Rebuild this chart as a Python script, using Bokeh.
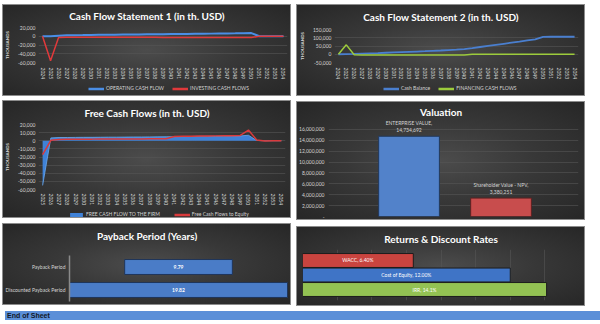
from bokeh.plotting import figure
from bokeh.models import (Range1d, FactorRange, Legend, LegendItem, NumeralTickFormatter,
                          FixedTicker, Spacer, Grid, Div)
from bokeh.layouts import column, row
from bokeh.embed import file_html
from bokeh.resources import INLINE
from bokeh.core.properties import value

# ---------------- data ----------------
years_cf = ["2024", "2025", "2026", "2027", "2028", "2029", "2030", "2031", "2032", "2033",
            "2034", "2035", "2036", "2037", "2038", "2039", "2040", "2041", "2042", "2043",
            "2044", "2045", "2046", "2047", "2048", "2049", "2050", "2051", "2052", "2053", "2054"]
operating_cf = [0, 0, 1400, 2100, 2500, 2700, 3000, 3300, 3500, 3600, 3900, 4100, 4200, 4500,
                4700, 4800, 5100, 5300, 5400, 5700, 5900, 6000, 6300, 6500, 6600, 6900, 7200,
                0, 0, 0, 0]
investing_cf = [0, -56000, -2600, -2100, -2100, -2200, -2200, -2300, -2200, -2300, -2400, -2400,
                -2500, -2500, -2400, -2600, -2600, -2700, -2600, -2800, -2800, -2900, -2800,
                -3000, -3000, -3100, -3100, 0, 0, 0, 0]
cash_balance = [0, 300, 2000, 3800, 5500, 7200, 9000, 10800, 12700, 14600, 16500, 18500, 20600,
                22800, 25100, 27500, 31500, 37500, 44000, 50500, 57000, 63500, 70000, 76500,
                83500, 90500, 105500, 106000, 106000, 106000, 106000]
financing_cf = [0, 57000, -3500, -3800, -3800, -3900, -3900, -4000, -4000, -4000, -4100, -4100,
                -4100, -4200, -4200, -4200, -4300, -600, -600, -600, -600, -600, -600, -600,
                -600, -600, -600, 0, 0, 0, 0]

years_fcf = ["2025", "2026", "2027", "2028", "2029", "2030", "2031", "2032", "2033", "2034",
             "2035", "2036", "2037", "2038", "2039", "2040", "2041", "2042", "2043", "2044",
             "2045", "2046", "2047", "2048", "2049", "2050", "2051", "2052", "2053", "2054"]
fcff = [-55000, 3500, 4000, 4000, 4100, 4200, 4200, 4300, 4400, 4400, 4500, 4600, 4600, 4700,
        4800, 4900, 5000, 5100, 5200, 5300, 5400, 5500, 5600, 5800, 5900, 6800, 300, 0, 0, 0]
fcfe = [-17000, 500, 1500, 1800, 1900, 2000, 2000, 2100, 2100, 2200, 2200, 2300, 2300, 2400,
        2400, 2500, 5200, 5500, 5600, 5800, 5900, 6000, 6200, 6300, 6500, 13200, 1000, -300, 0, 0]

valuation_names = ["ENTERPRISE VALUE", "Shareholder Value - NPV"]
valuation_values = [14734692, 3380251]

payback_names = ["Payback Period", "Discounted Payback Period"]
payback_values = [9.79, 19.82]

rate_names = ["WACC", "Cost of Equity", "IRR"]
rate_values = [0.064, 0.12, 0.141]
rate_decimals = [2, 2, 1]

ticks_cf1 = [-60000, -40000, -20000, 0, 20000]
ticks_cf2 = [-50000, 0, 50000, 100000, 150000]
ticks_fcf = [-60000, -50000, -40000, -30000, -20000, -10000, 0, 10000, 20000]
ticks_val = [0, 2000000, 4000000, 6000000, 8000000, 10000000, 12000000, 14000000, 16000000]
ticks_rate = [0.02, 0.04, 0.06, 0.08, 0.10, 0.12, 0.14, 0.16]

# ---------------- style ----------------
FONT = "Lato"
TICK_COLOR = "#d4d4d4"
GRID_COLOR = "#565656"
BG_CSS = "radial-gradient(ellipse at 50% 50%, #4c4c4c 0%, #383838 45%, #262626 100%)"
PANEL_W = 289
C_BLUE_LINE = "#4a8ee6"
C_RED_LINE = "#e0393b"
C_CASH = "#4a7fcf"
C_FIN = "#9dcc3c"
C_FCFF = "#3f82d8"
C_FCFE = "#d93a3c"
NAN = float("nan")


def plain_fig(w, h, x_range, y_range):
    f = figure(width=w, height=h, x_range=x_range, y_range=y_range, output_backend="svg",
               toolbar_location=None, min_border=0, title=None, frame_align=False,
               x_axis_location=None, y_axis_location=None, background_fill_alpha=0,
               border_fill_alpha=0, outline_line_color=None)
    f.grid.visible = False
    return f


def title_fig(text, h, center):
    t = plain_fig(PANEL_W, h, Range1d(0, PANEL_W), Range1d(h, 0))
    t.text(x=[PANEL_W / 2], y=[center], text=[text], text_align="center",
           text_baseline="middle", text_font=value(FONT), text_font_style="bold",
           text_font_size="10px", text_color="#ffffff")
    return t


def legend_fig(h, entries, x, y, spacing):
    # legend keys only: renderers carry no visible data
    f = plain_fig(PANEL_W, h, Range1d(0, 1), Range1d(0, 1))
    items = []
    for label, kind, color in entries:
        if kind == "area":
            r = f.varea(x=[NAN], y1=[NAN], y2=[NAN], fill_color=color)
        else:
            r = f.line(x=[NAN], y=[NAN], line_color=color, line_width=2.5)
        items.append(LegendItem(label=label, renderers=[r]))
    lg = Legend(items=items, location=(x, y), orientation="horizontal",
                label_text_font=FONT, label_text_font_size="5px",
                label_text_color=TICK_COLOR, glyph_width=16, glyph_height=5,
                label_height=5, label_standoff=2, spacing=spacing, padding=0, margin=0,
                background_fill_alpha=0, border_line_color=None)
    f.add_layout(lg)
    return f


def chart_fig(h, left, right, top, bottom, x_range, y_range, x_loc="below", y_loc="left"):
    p = figure(width=PANEL_W, height=h, x_range=x_range, y_range=y_range, output_backend="svg",
               toolbar_location=None, min_border_left=left, min_border_right=right,
               min_border_top=top, min_border_bottom=bottom, background_fill_alpha=0,
               border_fill_alpha=0, outline_line_color=None, title=None, frame_align=False,
               x_axis_location=x_loc, y_axis_location=y_loc)
    for ax in p.axis:
        ax.axis_line_color = None
        ax.major_tick_line_color = None
        ax.minor_tick_line_color = None
        ax.major_tick_out = 0
        ax.minor_tick_out = 0
        ax.major_tick_in = 0
        ax.minor_tick_in = 0
        ax.major_label_text_font = FONT
        ax.major_label_text_font_size = "5px"
        ax.major_label_text_color = TICK_COLOR
        ax.axis_label_text_font = FONT
        ax.axis_label_text_font_size = "4.5px"
        ax.axis_label_text_font_style = "bold"
        ax.axis_label_text_color = TICK_COLOR
    p.xgrid.grid_line_color = None
    p.ygrid.grid_line_color = GRID_COLOR
    p.ygrid.grid_line_width = 0.6
    return p


def panel(*figs):
    return column(*figs, styles={"background": BG_CSS, "outline": "1px solid #8c8c8c",
                                 "outline-offset": "-1px"})


def line_axes(p, ticks, standoff_x):
    p.yaxis.ticker = FixedTicker(ticks=ticks)
    p.yaxis.formatter = NumeralTickFormatter(format="0,0")
    p.yaxis.axis_label = "THOUSANDS"
    p.yaxis.major_label_standoff = 3
    p.yaxis.axis_label_standoff = 5
    p.xaxis.major_label_orientation = "vertical"
    p.xaxis.major_label_standoff = standoff_x


# ---- Panel 1: Cash Flow Statement 1 ----
p1 = chart_fig(60, 33, 4, 5, 17, FactorRange(*years_cf), Range1d(-60000, 20000))
line_axes(p1, ticks_cf1, 5)
p1.line(years_cf, operating_cf, line_color=C_BLUE_LINE, line_width=2)
p1.line(years_cf, investing_cf, line_color=C_RED_LINE, line_width=1.5)
panel1 = panel(title_fig("Cash Flow Statement 1 (in th. USD)", 18, 11), p1,
               legend_fig(14, [("OPERATING CASH FLOW", "line", C_BLUE_LINE),
                               ("INVESTING CASH FLOWS", "line", C_RED_LINE)], 86, 5, 8))

# ---- Panel 2: Cash Flow Statement 2 ----
p2 = chart_fig(60, 37, 7, 7, 17, FactorRange(*years_cf), Range1d(-50000, 150000))
line_axes(p2, ticks_cf2, 5)
p2.line(years_cf, cash_balance, line_color=C_CASH, line_width=1.8)
p2.line(years_cf, financing_cf, line_color=C_FIN, line_width=1.5)
panel2 = panel(title_fig("Cash Flow Statement 2 (in th. USD)", 18, 12), p2,
               legend_fig(14, [("Cash Balance", "line", C_CASH),
                               ("FINANCING CASH FLOWS", "line", C_FIN)], 87, 5, 8))

# ---- Panel 3: Free Cash Flows ----
p3 = chart_fig(90, 35, 6, 6, 17, FactorRange(*years_fcf), Range1d(-60000, 20000))
line_axes(p3, ticks_fcf, 4)
p3.varea(x=years_fcf, y1=0, y2=fcff, fill_color=C_FCFF)
p3.line(years_fcf, fcff, line_color="#6aaaf0", line_width=0.8)
p3.line(years_fcf, fcfe, line_color=C_FCFE, line_width=1.5)
panel3 = panel(title_fig("Free Cash Flows (in th. USD)", 18, 12), p3,
               legend_fig(10, [("FREE CASH FLOW TO THE FIRM", "area", C_FCFF),
                               ("Free Cash Flows to Equity", "line", C_FCFE)], 66, 1, 14))

# ---- Panel 4: Valuation ----
val_idx = list(range(len(valuation_values)))
p4 = chart_fig(103, 32, 7, 1, 4, Range1d(-0.875, 1.842), Range1d(0, 18000000), x_loc=None)
p4.yaxis.ticker = FixedTicker(ticks=ticks_val)
p4.yaxis.formatter = NumeralTickFormatter(format="0,0")
p4.yaxis.major_label_overrides = {0: "-"}
p4.yaxis.major_label_standoff = 4
p4.vbar(x=val_idx, top=valuation_values, bottom=0, width=0.66,
        fill_color=["#5282ca", "#c84d4d"], line_color=["#22395c", "#5c2222"], line_width=1)
p4.text(x=val_idx, y=valuation_values, text=[n + "," for n in valuation_names],
        y_offset=-10, text_align="center", text_baseline="bottom",
        text_font=value(FONT), text_font_size="5px", text_color=TICK_COLOR)
p4.text(x=val_idx, y=valuation_values, text=[f"{v:,}" for v in valuation_values],
        y_offset=-4, text_align="center", text_baseline="bottom",
        text_font=value(FONT), text_font_size="5px", text_color=TICK_COLOR)
panel4 = panel(title_fig("Valuation", 16, 10), p4)

# ---- Panel 5: Payback Period ----
pb_max = max(payback_values)
pb_left = [(pb_max - v) / 2 for v in payback_values]
pb_right = [l + v for l, v in zip(pb_left, payback_values)]
p5 = chart_fig(64, 62, 2, 14, 4, Range1d(0, 20), FactorRange(*reversed(payback_names)),
               x_loc=None)
p5.yaxis.axis_line_color = "#8a8a8a"
p5.yaxis.axis_line_width = 1.5
p5.yaxis.major_label_standoff = 4
p5.ygrid.grid_line_color = None
p5.hbar(y=payback_names, left=pb_left, right=pb_right, height=0.65,
        fill_color="#4a7cc7", line_color="#1f355a", line_width=1)
p5.text(x=[(l + r) / 2 for l, r in zip(pb_left, pb_right)], y=payback_names,
        text=[f"{v:.2f}" for v in payback_values], text_align="center",
        text_baseline="middle", text_font=value(FONT), text_font_size="5px",
        text_font_style="bold", text_color="#ffffff")
panel5 = panel(title_fig("Payback Period (Years)", 18, 12), p5)

# ---- Panel 6: Returns & Discount Rates ----
p6 = chart_fig(62, 6, 6, 5, 6, Range1d(0, 0.16),
               FactorRange(*reversed(rate_names), range_padding=0.172),
               x_loc=None, y_loc=None)
p6.ygrid.grid_line_color = None
p6.add_layout(Grid(dimension=0, ticker=FixedTicker(ticks=ticks_rate),
                   grid_line_color=GRID_COLOR, grid_line_width=0.6))
p6.hbar(y=rate_names, left=0, right=rate_values, height=0.96,
        fill_color=["#c9443f", "#3f74c6", "#93c253"], line_color="#1c1c1c", line_width=1)
p6.text(x=[v / 2 for v in rate_values], y=rate_names,
        text=[f"{n}, {v * 100:.{d}f}%" for n, v, d in zip(rate_names, rate_values, rate_decimals)],
        text_align="center", text_baseline="middle", text_font=value(FONT),
        text_font_size="5px", text_color="#ffffff")
panel6 = panel(title_fig("Returns & Discount Rates", 18, 12), p6)

# ---- End of Sheet bar ----
end_bar = Div(text="End of Sheet", width=600, height=9,
              styles={"background-color": "#5b8fd8", "color": "#111827",
                      "font-family": "'Liberation Sans', Arial, sans-serif",
                      "font-weight": "bold", "font-size": "7px", "line-height": "9px",
                      "text-indent": "2px", "overflow": "hidden"})

left_col = column(Spacer(width=PANEL_W, height=4), panel1, Spacer(width=PANEL_W, height=4),
                  panel3, Spacer(width=PANEL_W, height=5), panel5)
right_col = column(Spacer(width=PANEL_W, height=4), panel2, Spacer(width=PANEL_W, height=5),
                   panel4, Spacer(width=PANEL_W, height=6), panel6)
top = row(Spacer(width=2, height=10), left_col, Spacer(width=5, height=10), right_col)
page = column(top, end_bar)

open("out.html", "w").write(file_html(page, INLINE))
